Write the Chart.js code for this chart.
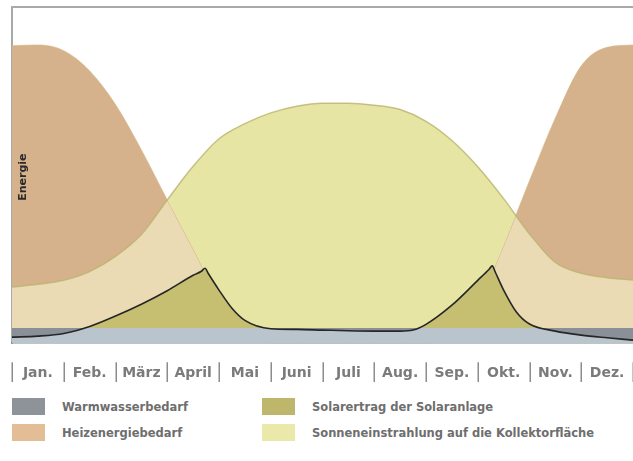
<!DOCTYPE html>
<html lang="de">
<head>
<meta charset="utf-8">
<title>Energiebedarf und Solarertrag im Jahresverlauf</title>
<script src="https://cdn.jsdelivr.net/npm/chart.js@4.4.1/dist/chart.umd.min.js"></script>
<style>
  html, body { margin: 0; padding: 0; background: #fff; }
  #wrap { position: relative; width: 633px; height: 461px; overflow: hidden; }
  #chart-box { position: absolute; left: 0; top: 0; width: 633px; height: 382px; }
  #legend {
    position: absolute; left: 12px; top: 398px;
    display: grid; grid-template-columns: 250px auto; row-gap: 9px;
    font: bold 11.5px "DejaVu Sans", sans-serif; color: #6e6e6e; white-space: nowrap;
  }
  .item { display: flex; align-items: center; height: 17px; }
  .swatch { width: 33px; height: 17px; margin-right: 17px; flex: none; }
</style>
</head>
<body>
<div id="wrap">
  <div id="chart-box"><canvas id="energy-chart" width="633" height="382"></canvas></div>
  <div id="legend"></div>
</div>
<script>
const MONTHS = ['Jan.', 'Feb.', 'März', 'April', 'Mai', 'Juni', 'Juli', 'Aug.', 'Sep.', 'Okt.', 'Nov.', 'Dez.']
const Y_TITLE = 'Energie'

// x in months from the start of January (0) to the end of December (12)
const HALF_MONTHS = [0, 0.5, 1, 1.5, 2, 2.5, 3, 3.5, 4, 4.5, 5, 5.5, 6, 6.5, 7, 7.5, 8, 8.5, 9, 9.5, 10, 10.5, 11, 11.5, 12]

const HEATING = [88.5, 88.7, 87.0, 81.0, 71.0, 57.5, 42.6, 28.0, 13.0, 2.5, 0, 0, 0, 0, 0, 0, 0, 1.0, 11.5, 29.0, 48.3, 67.0, 82.5, 88.0, 88.7]
const IRRADIANCE = [16.7, 17.5, 18.7, 21.3, 25.8, 32.3, 42.6, 52.6, 60.8, 65.3, 68.5, 70.5, 71.4, 71.4, 70.8, 69.5, 66.0, 60.3, 52.5, 43.0, 32.5, 24.0, 20.8, 19.5, 18.8]

const WATER_X = [0, 12]
const WARMWATER = [4.5, 4.5]

const SOLAR_X = [0, 0.5, 1, 1.5, 2, 2.5, 3, 3.5, 3.66, 3.73, 3.79, 4, 4.25, 4.5, 5, 5.5, 6, 6.5, 7, 7.5, 7.75, 8, 8.5, 9, 9.22, 9.28, 9.34, 9.5, 9.75, 10, 10.5, 11, 11.5, 12]
const SOLAR = [1.8, 2.1, 2.9, 5.0, 8.1, 11.6, 15.6, 20.2, 21.4, 22.3, 20.8, 15.8, 10.4, 6.8, 4.3, 4.1, 3.9, 3.7, 3.6, 3.6, 3.9, 5.6, 11.3, 18.7, 22.0, 23.0, 21.1, 15.8, 9.2, 5.7, 3.6, 2.4, 1.6, 0.9]

const LEGEND_LABELS = ['Warmwasserbedarf', 'Solarertrag der Solaranlage', 'Heizenergiebedarf', 'Sonneneinstrahlung auf die Kollektorfläche']
const LEGEND_COLORS = ['#8e9399', '#bdb66b', '#e2bd96', '#ebe9a9']

const TAN = '#d5b28c'
const BEIGE = '#eadbb4'
const YELLOW = '#e7e5a3'
const OLIVE = '#c6be71'
const BAND = '#b9c4cc'
const DARK_GRAY = '#8a9097'
const FRAME = '#a9a9a9'
const LABEL_GRAY = '#7b7b7b'

const toPoints = (xs, ys) => xs.map((x, i) => ({ x, y: ys[i] }))

// "Energie" sits inside the plot, just right of the left axis line
const axisCaption = {
  id: 'axisCaption',
  afterDatasetsDraw(chart) {
    const { ctx, chartArea, scales } = chart
    ctx.save()
    ctx.translate(chartArea.left + 11, (scales.y.top + scales.y.bottom) / 2 + 2)
    ctx.rotate(-Math.PI / 2)
    ctx.font = 'bold 11px "DejaVu Sans"'
    ctx.fillStyle = '#2a2a2a'
    ctx.textAlign = 'center'
    ctx.textBaseline = 'middle'
    ctx.fillText(Y_TITLE, 0, 0)
    ctx.restore()
  },
}

// short upright bars between the month names, level with the labels
const monthSeparators = {
  id: 'monthSeparators',
  afterDraw(chart) {
    const { ctx, scales } = chart
    const months = scales.months
    const top = months.top + 19
    ctx.save()
    ctx.strokeStyle = '#8c8c8c'
    ctx.lineWidth = 1.5
    ctx.beginPath()
    for (let i = 0; i <= MONTHS.length; i++) {
      const x = Math.round(months.getPixelForValue(i - 0.5)) + 0.25
      ctx.moveTo(x, top)
      ctx.lineTo(x, top + 20)
    }
    ctx.stroke()
    ctx.restore()
  },
}

const ctx = document.getElementById('energy-chart').getContext('2d')

new Chart(ctx, {
  type: 'line',
  data: {
    datasets: [
      {
        label: 'Heizenergiebedarf',
        data: toPoints(HALF_MONTHS, HEATING),
        xAxisID: 'x',
        fill: 'origin',
        backgroundColor: BEIGE,
        borderColor: 'rgba(196, 158, 112, 0.55)',
        borderWidth: 1,
        order: 4,
      },
      {
        // yellow where irradiance tops the heating demand, tan where heating is higher
        label: 'Sonneneinstrahlung auf die Kollektorfläche',
        data: toPoints(HALF_MONTHS, IRRADIANCE),
        xAxisID: 'x',
        fill: { target: 0, above: YELLOW, below: TAN },
        borderColor: 'rgba(186, 180, 110, 0.8)',
        borderWidth: 1.5,
        order: 3,
      },
      {
        label: 'Warmwasserbedarf',
        data: toPoints(WATER_X, WARMWATER),
        xAxisID: 'x',
        fill: 'origin',
        backgroundColor: BAND,
        borderWidth: 0,
        order: 2,
      },
      {
        label: 'Solarertrag der Solaranlage',
        data: toPoints(SOLAR_X, SOLAR),
        xAxisID: 'x',
        fill: { target: { value: WARMWATER[0] }, above: OLIVE, below: DARK_GRAY },
        borderColor: '#262626',
        borderWidth: 1.6,
        order: 1,
      },
    ],
  },
  options: {
    responsive: false,
    animation: false,
    layout: { padding: { left: 12, top: 7, right: 0, bottom: 0 } },
    elements: {
      point: { radius: 0 },
      line: { cubicInterpolationMode: 'monotone' },
    },
    scales: {
      x: {
        type: 'linear',
        position: 'top',
        min: 0,
        max: 12,
        ticks: { display: false },
        grid: { display: false, drawTicks: false },
        border: { display: true, color: FRAME, width: 2 },
      },
      y: {
        min: 0,
        max: 100,
        ticks: { display: false },
        grid: { display: false, drawTicks: false },
        border: { display: true, color: FRAME, width: 2 },
      },
      months: {
        type: 'category',
        labels: MONTHS,
        position: 'bottom',
        offset: true,
        // hidden tick marks still reserve the gap above the labels
        grid: { display: false, drawTicks: true, tickLength: 22 },
        border: { display: true, color: '#7f8991', width: 1.5 },
        ticks: {
          padding: 0,
          autoSkip: false,
          maxRotation: 0,
          color: LABEL_GRAY,
          font: { family: 'DejaVu Sans', size: 14, weight: 'bold', lineHeight: 1.2 },
        },
      },
    },
    plugins: {
      legend: { display: false },
      tooltip: { enabled: false },
    },
  },
  plugins: [axisCaption, monthSeparators],
})

const legend = document.getElementById('legend')
LEGEND_LABELS.forEach((text, i) => {
  const item = document.createElement('div')
  item.className = 'item'
  const swatch = document.createElement('span')
  swatch.className = 'swatch'
  swatch.style.background = LEGEND_COLORS[i]
  item.appendChild(swatch)
  item.appendChild(document.createTextNode(text))
  legend.appendChild(item)
})
</script>
</body>
</html>
